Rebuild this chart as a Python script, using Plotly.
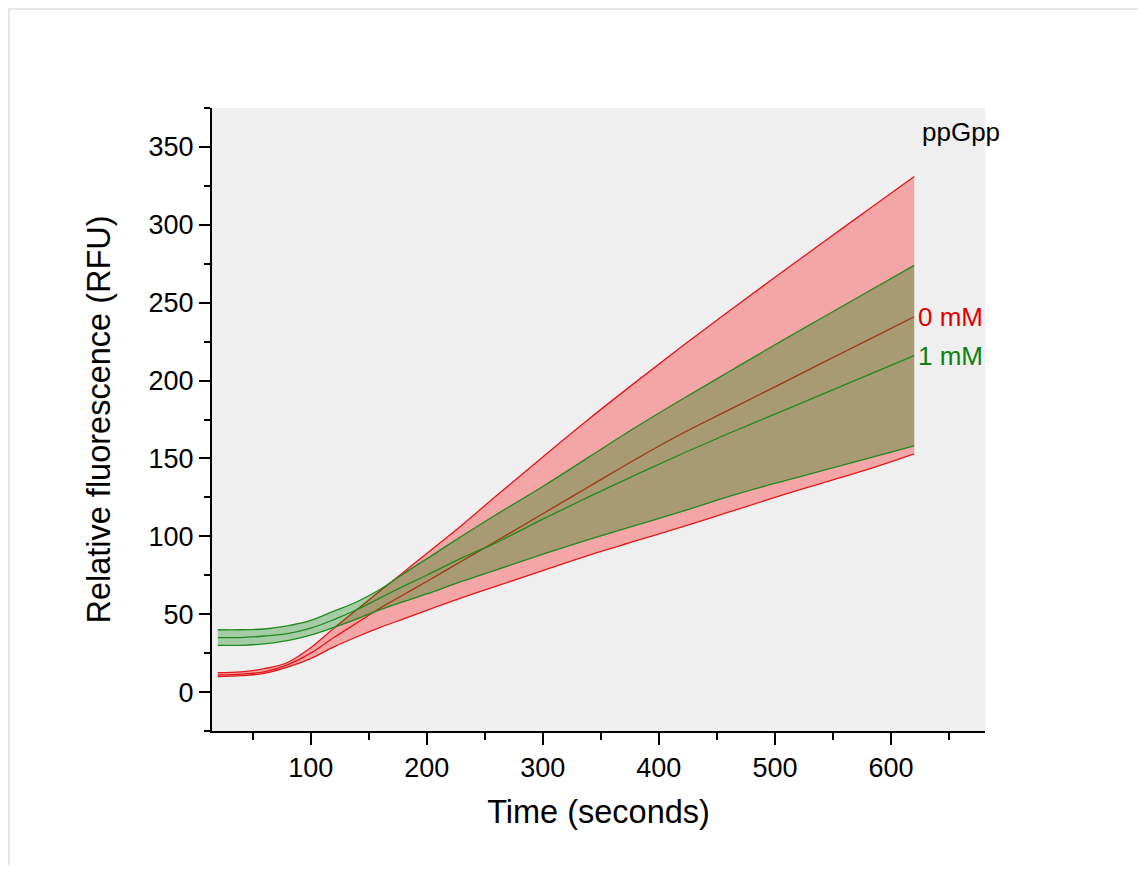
import plotly.graph_objects as go

# ---- data ----
time_s = [20, 40, 60, 80, 100, 120, 140, 160, 180, 200, 230, 260, 300, 340, 380, 420, 460, 500, 540, 580, 620]

red_upper = [12.5, 13, 15, 19, 28.5, 41, 53, 65, 77, 89, 107, 126, 151, 175.5, 199, 222, 244.3, 266.3, 288, 309.5, 331]
red_mean = [11, 11.5, 13, 17.5, 25, 35, 44.5, 54, 62.5, 71, 84, 97, 114.5, 132, 149.5, 166, 181, 196, 211, 226, 241]
red_lower = [10, 10.5, 12, 16, 21.5, 29, 35.5, 41.5, 47, 52.5, 60.5, 68, 78, 88, 97, 106, 115.5, 125, 134, 143, 153]

green_upper = [40, 40, 40.5, 42.5, 46, 52, 58, 66, 76, 85.5, 100, 114, 132, 151, 170, 188, 205.5, 223, 240, 257, 274]
green_mean = [35, 35, 36, 37.5, 41, 46.5, 53, 60.5, 68, 75, 86, 96, 111, 125.5, 139.5, 153, 166, 178.5, 191, 203.5, 216]
green_lower = [30, 30, 31, 33, 36.5, 41.5, 47, 53, 58, 63, 71, 78.5, 88.5, 98, 107, 116, 125.5, 134, 142, 150, 158]

series_labels = ["0 mM", "1 mM"]
legend_title = "ppGpp"

RED = "#E3161B"
GREEN = "#1E8A1E"
RED_FILL = "rgba(255,0,0,0.31)"
GREEN_FILL = "rgba(0,128,0,0.31)"
FONT = "Liberation Sans, Arial, sans-serif"

fig = go.Figure()
line_kw = dict(shape="spline", smoothing=1.0)

fig.add_trace(go.Scatter(x=time_s, y=red_lower, mode="lines",
                         line=dict(color=RED, width=1.3, **line_kw), showlegend=False, hoverinfo="skip"))
fig.add_trace(go.Scatter(x=time_s, y=red_upper, mode="lines", fill="tonexty", fillcolor=RED_FILL,
                         line=dict(color=RED, width=1.3, **line_kw), showlegend=False, hoverinfo="skip"))
fig.add_trace(go.Scatter(x=time_s, y=red_mean, mode="lines", name=series_labels[0],
                         line=dict(color=RED, width=1.3, **line_kw), showlegend=False))

fig.add_trace(go.Scatter(x=time_s, y=green_lower, mode="lines",
                         line=dict(color=GREEN, width=1.3, **line_kw), showlegend=False, hoverinfo="skip"))
fig.add_trace(go.Scatter(x=time_s, y=green_upper, mode="lines", fill="tonexty", fillcolor=GREEN_FILL,
                         line=dict(color=GREEN, width=1.3, **line_kw), showlegend=False, hoverinfo="skip"))
fig.add_trace(go.Scatter(x=time_s, y=green_mean, mode="lines", name=series_labels[1],
                         line=dict(color=GREEN, width=1.3, **line_kw), showlegend=False))

# end labels
fig.add_annotation(x=time_s[-1], y=red_mean[-1], xref="x", yref="y", text=series_labels[0],
                   showarrow=False, xanchor="left", yanchor="middle", xshift=2,
                   font=dict(family=FONT, size=26, color="#E00000"))
fig.add_annotation(x=time_s[-1], y=green_mean[-1], xref="x", yref="y", text=series_labels[1],
                   showarrow=False, xanchor="left", yanchor="middle", xshift=2,
                   font=dict(family=FONT, size=26, color="#108010"))
fig.add_annotation(x=0.916, y=0.962, xref="paper", yref="paper", text=legend_title,
                   showarrow=False, xanchor="left", yanchor="middle",
                   font=dict(family=FONT, size=26, color="black"))

# light outer frame
fig.add_shape(type="rect", xref="paper", yref="paper", x0=-0.2626, x1=1.2044, y0=-0.30, y1=1.1589,
              line=dict(color="#E6E6E6", width=2), fillcolor="rgba(0,0,0,0)", layer="below")

fig.update_layout(
    width=1138, height=857,
    margin=dict(l=204, r=161, t=100, b=134),
    paper_bgcolor="white",
    plot_bgcolor="#EFEFEF",
    font=dict(family=FONT, color="black"),
    showlegend=False,
)

fig.update_xaxes(
    range=[15, 681], showgrid=False, zeroline=False,
    showline=True, linecolor="black", linewidth=2,
    ticks="outside", ticklen=12, tickwidth=2, tickcolor="black",
    tick0=0, dtick=100,
    minor=dict(ticks="outside", ticklen=7, tickwidth=1.5, tickcolor="black", tick0=0, dtick=50),
    tickfont=dict(family=FONT, size=27, color="black"),
    title=dict(text="Time (seconds)", font=dict(family=FONT, size=32.5, color="black"), standoff=18),
)
fig.update_yaxes(
    range=[-25, 375.01], showgrid=False, zeroline=False,
    showline=True, linecolor="black", linewidth=2,
    ticks="outside", ticklen=11, tickwidth=2, tickcolor="black",
    tick0=0, dtick=50,
    minor=dict(ticks="outside", ticklen=6, tickwidth=1.5, tickcolor="black", tick0=0, dtick=25),
    tickfont=dict(family=FONT, size=27, color="black"),
    title=dict(text="Relative fluorescence (RFU)", font=dict(family=FONT, size=32.5, color="black"), standoff=28),
)

fig.write_html("out.html")
